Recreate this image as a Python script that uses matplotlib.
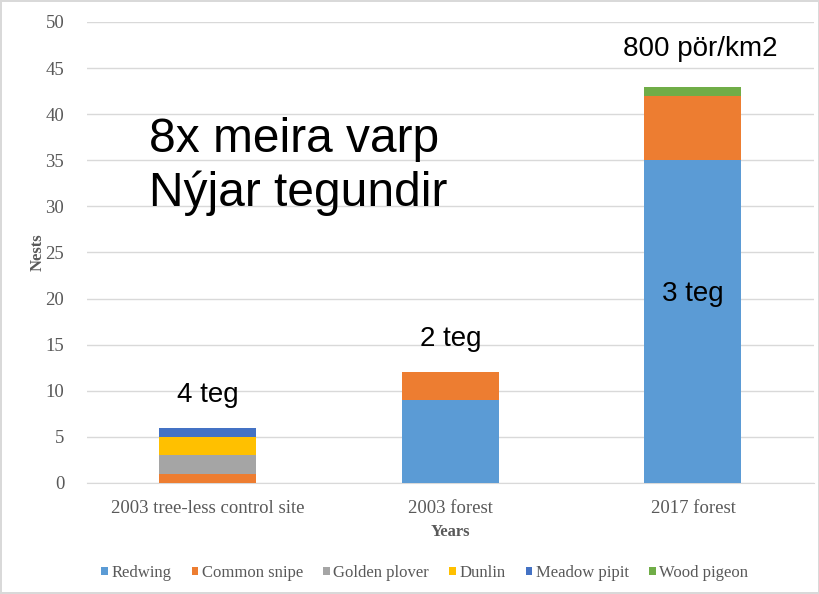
import numpy as np
import matplotlib.pyplot as plt

categories = ["2003 tree-less control site", "2003 forest", "2017 forest"]
species = ["Redwing", "Common snipe", "Golden plover", "Dunlin", "Meadow pipit", "Wood pigeon"]
redwing = [0, 9, 35]
common_snipe = [1, 3, 7]
golden_plover = [2, 0, 0]
dunlin = [2, 0, 0]
meadow_pipit = [1, 0, 0]
wood_pigeon = [0, 0, 1]
colors = ["#5B9BD5", "#ED7D31", "#A5A5A5", "#FFC000", "#4472C4", "#70AD47"]

bar_notes = ["4 teg", "2 teg", "3 teg"]
note_heights = [8.8, 14.9, 19.7]


def main():
    series = [redwing, common_snipe, golden_plover, dunlin, meadow_pipit, wood_pigeon]
    x = np.arange(len(categories))

    fig = plt.figure(figsize=(8.2, 5.94), dpi=100)
    fig.patch.set_edgecolor("#d9d9d9")
    fig.patch.set_linewidth(1.5)
    ax = fig.add_axes([0.1055, 0.187, 0.8875, 0.776])

    bottom = np.zeros(len(categories))
    for name, vals, col in zip(species, series, colors):
        ax.bar(x, vals, width=0.4, bottom=bottom, color=col, label=name, zorder=3)
        bottom += np.array(vals)

    serif = "Liberation Serif"
    sans = "Liberation Sans"
    gray = "#595959"
    ax.set_xlim(-0.5, 2.5)
    ax.set_ylim(0, 50)
    ax.set_yticks(range(0, 51, 5))
    ax.set_xticks(x)
    ax.set_xticklabels(categories, fontsize=13.5, family=serif, color=gray)
    for lab in ax.get_yticklabels():
        lab.set_family(serif)
        lab.set_fontsize(13.5)
        lab.set_color(gray)
    ax.tick_params(axis="x", length=0, pad=12)
    ax.tick_params(axis="y", length=0, pad=16)
    ax.grid(axis="y", color="#d9d9d9", linewidth=1, zorder=0)
    for s in ["top", "right", "left"]:
        ax.spines[s].set_visible(False)
    ax.spines["bottom"].set_color("#d9d9d9")
    ax.set_ylabel("Nests", family=serif, fontsize=12, fontweight="bold", color=gray, labelpad=0)
    ax.set_xlabel("Years", family=serif, fontsize=12, fontweight="bold", color=gray, labelpad=5)

    for xi, note, h in zip(x, bar_notes, note_heights):
        ax.text(xi, h, note, ha="center", va="baseline", fontsize=20, family=sans)
    ax.text(2.03, 46.3, "800 pör/km2", ha="center", va="baseline", fontsize=20, family=sans)
    ax.text(-0.243, 35.9, "8x meira varp", ha="left", va="baseline", fontsize=34.5, family=sans)
    ax.text(-0.243, 30.0, "Nýjar tegundir", ha="left", va="baseline", fontsize=34.5, family=sans)

    leg = fig.legend(loc="center", bbox_to_anchor=(0.518, 0.035), ncol=6, frameon=False,
                     prop={"family": serif, "size": 12}, handlelength=0.4, handleheight=0.4,
                     handletextpad=0.2, columnspacing=1.22)
    for t in leg.get_texts():
        t.set_color(gray)

    fig.savefig("out.png", dpi=100, edgecolor=fig.get_edgecolor())


if __name__ == "__main__":
    main()
